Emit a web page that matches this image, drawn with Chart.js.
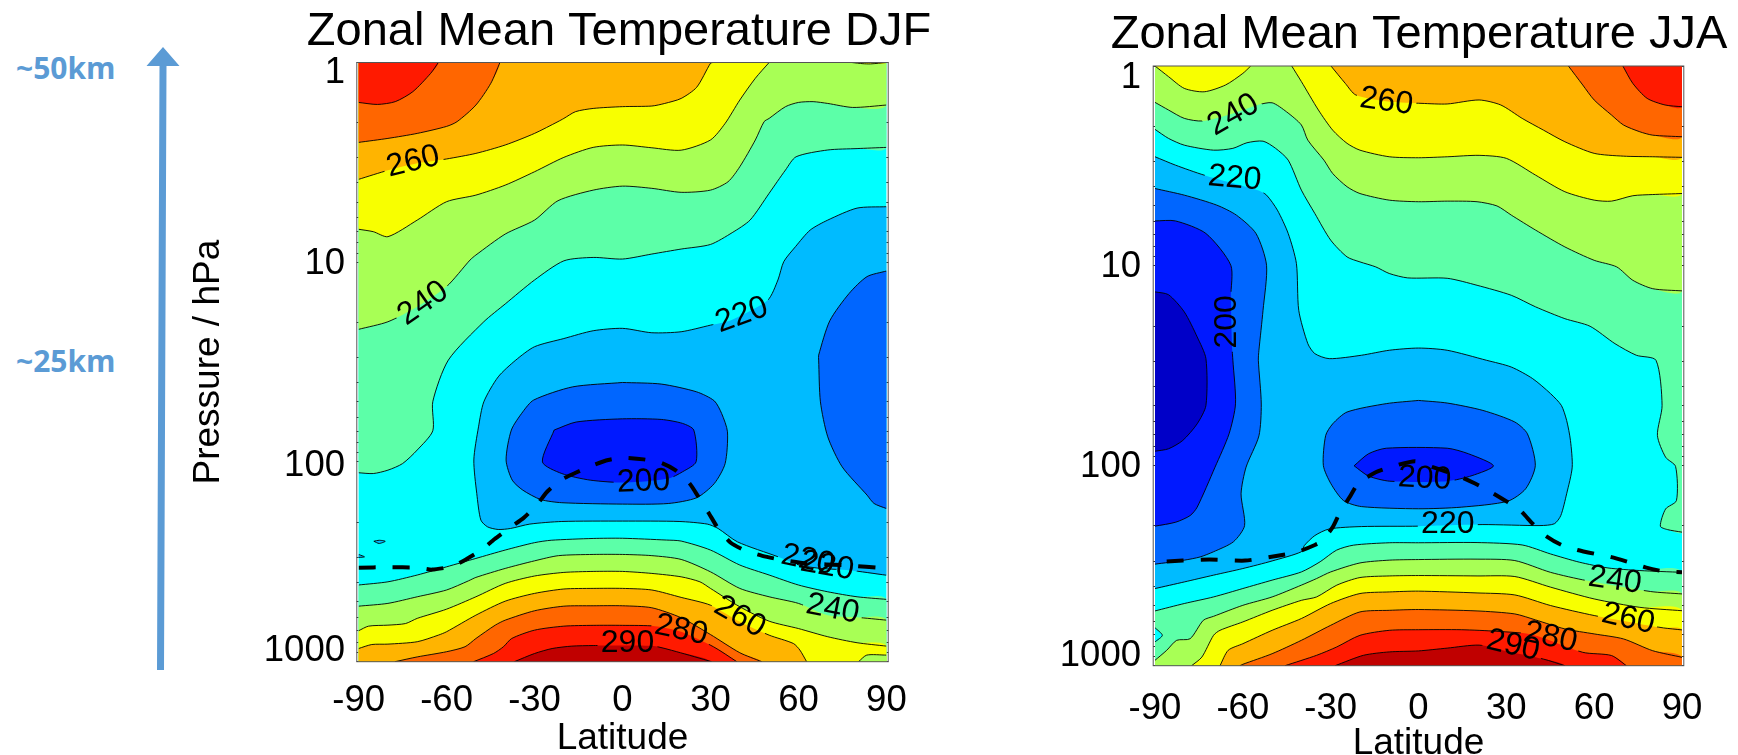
<!DOCTYPE html>
<html>
<head>
<meta charset="utf-8">
<title>Zonal Mean Temperature</title>
<script src="https://cdn.jsdelivr.net/npm/chart.js@4"></script>
<style>
  html, body { margin: 0; background: #fff; width: 1738px; height: 755px; overflow: hidden; }
  canvas { position: absolute; top: 0; }
  .km { position: absolute; left: 16px; color: #5b9bd5; font: bold 30px "Open Sans", sans-serif; line-height: 30px; }
  #arrow { position: absolute; left: 140px; top: 40px; }
</style>
</head>
<body>
<svg id="arrow" width="50" height="640">
  <polygon points="17,630 24,630 26.5,26 39.5,26 23,7 6.5,26 19.5,26" fill="#5b9bd5"/>
</svg>
<div class="km" style="top:53px">~50km</div>
<div class="km" style="top:346px">~25km</div>
<canvas id="djfChart" style="left:190px" width="858" height="800"></canvas>
<canvas id="jjaChart" style="left:1050px" width="738" height="800"></canvas>
<script>
// contours are [latitude, log10(pressure in hPa)]
const latTicks = [-90, -60, -30, 0, 30, 60, 90];
const pressureLabels = ['1', '10', '100', '1000'];

// ---- DJF ----
const djfUp230 = [[-90,2.054],[-85,2.058],[-80,2.041],[-75,2.008],[-70,1.94],[-64.7,1.844],[-64.7,1.698],[-59.4,1.49],[-47.3,1.298],[-40,1.209],[-30,1.089],[-20,.993],[-10,.976],[0,.984],[10,.959],[20,.934],[30,.911],[37.4,.852],[43.5,.789],[50,.655],[55.6,.538],[59.2,.472],[70,.438],[80,.431],[90,.425]];
const djfUp240 = [[-90,1.336],[-80,1.298],[-70,1.223],[-60,1.122],[-52,.989],[-50,.964],[-40,.859],[-30,.789],[-22,.692],[-10,.639],[0,.619],[10,.63],[20,.65],[30,.639],[36,.597],[40,.522],[45.3,.388],[48.3,.296],[50,.28],[55.6,.221],[60,.2],[65,.196],[70,.205],[78.5,.225],[90,.213]];
const djfUp250 = [[-90,.835],[-85,.847],[-80,.872],[-70,.789],[-60,.697],[-50,.664],[-40,.614],[-30,.547],[-20,.475],[-10,.425],[0,.413],[10,.427],[20,.439],[30,.388],[35,.305],[40,.188],[45.3,.079],[50,0]];
const djfUp250Pocket = [[78.2,0],[82,.006],[84.6,.007],[90,0]];
const djfUp260 = [[-90,.585],[-80,.54],[-70,.505],[-60,.483],[-50,.455],[-40,.413],[-30,.355],[-22,.296],[-20,.28],[-16,.246],[-10,.23],[0,.221],[10,.218],[14.4,.205],[20,.18],[25.3,.124],[30,.004],[30.8,0]];
const djfUp270 = [[-90,.4],[-80,.38],[-70,.355],[-60,.32],[-56.4,.296],[-50,.213],[-44.9,.104],[-41.8,0]];
const djfUp280 = [[-90,.2],[-83.6,.21],[-77.5,.196],[-71.5,.146],[-65.4,.054],[-62.8,0]];
const djfMid220 = [[90,.722],[80,.729],[70,.789],[64,.839],[59,.922],[55,.997],[53,1.089],[49.5,1.19],[37,1.29],[30,1.315],[20,1.348],[10,1.353],[0,1.331],[-10,1.343],[-20,1.382],[-30,1.423],[-36.4,1.49],[-42.4,1.574],[-47.3,1.699],[-49.1,1.824],[-50.7,1.99],[-49.7,2.158],[-48.3,2.291],[-46,2.325],[-42.4,2.338],[-38.2,2.333],[-31.6,2.311],[-20.7,2.298],[0,2.296],[19.3,2.298],[28.9,2.311],[32.6,2.333],[39.2,2.4],[53.1,2.475],[60.4,2.517],[67.7,2.533],[77.3,2.542],[90,2.567]];
const djfSpeckA = [[-84.8,2.397],[-83,2.408],[-80.9,2.397],[-83,2.392],[-84.8,2.397]];
const djfSpeckB = [[-90,2.463],[-88,2.475],[-90,2.478]];
const djfRight210 = [[90,1.044],[83.4,1.072],[77.3,1.156],[70.7,1.293],[66.9,1.465],[66.9,1.49],[67.5,1.699],[70,1.874],[74.9,2.024],[83.4,2.166],[85.8,2.208],[90,2.233]];
const djfCore210 = [[0,1.602],[-17,1.624],[-30.3,1.69],[-34,1.749],[-37.9,1.84],[-39.7,1.99],[-37.6,2.091],[-34,2.141],[-27.9,2.188],[-20.7,2.204],[0,2.211],[15.6,2.208],[25.3,2.179],[31.3,2.108],[35,2.008],[35.8,1.849],[33.8,1.757],[31.3,1.694],[25.3,1.649],[13.2,1.61],[0,1.602]];
const djfCore200 = [[-23.3,1.84],[-15.8,1.8],[0,1.784],[13.2,1.787],[20.5,1.807],[24.3,1.84],[25.1,1.999],[20.5,2.049],[15.6,2.083],[1.1,2.103],[-11,2.091],[-20.7,2.058],[-27.3,2],[-23.3,1.84]];
const djfLow230 = [[-90,2.616],[-80,2.6],[-70,2.566],[-60,2.525],[-50,2.483],[-40,2.441],[-30,2.404],[-24.3,2.392],[-10,2.383],[0,2.382],[15,2.391],[20,2.396],[30,2.441],[40,2.516],[50,2.566],[60,2.616],[70,2.65],[80,2.675],[90,2.688]];
const djfLow240 = [[-90,2.722],[-80,2.708],[-70,2.675],[-60,2.641],[-52.5,2.595],[-50,2.578],[-40,2.533],[-30,2.495],[-21.8,2.469],[-10,2.463],[0,2.463],[10,2.469],[20,2.488],[30,2.55],[40,2.633],[50,2.675],[60,2.708],[70,2.767],[80,2.778],[90,2.792]];
const djfLow250 = [[-90,2.845],[-86.6,2.822],[-80,2.817],[-74,2.809],[-70,2.783],[-60,2.737],[-50,2.675],[-40,2.608],[-30,2.571],[-20,2.553],[-10,2.548],[0,2.548],[10,2.558],[20,2.575],[26.4,2.6],[30,2.633],[40,2.725],[50,2.797],[60,2.834],[70,2.875],[80,2.905],[90,2.922]];
const djfLow250Pocket = [[80.5,3],[83.3,2.967],[90,2.967]];
const djfLow260 = [[-90,2.934],[-85.5,2.914],[-80,2.912],[-70,2.9],[-62.8,2.867],[-60,2.85],[-50,2.767],[-40,2.697],[-30,2.658],[-20,2.636],[-10,2.633],[0,2.633],[10,2.641],[20,2.678],[30,2.717],[40,2.8],[50,2.867],[58.3,2.909],[60.5,2.942],[62.8,3]];
const djfLow270 = [[-77.6,3],[-70,2.976],[-60,2.95],[-53.7,2.925],[-50,2.884],[-43.4,2.817],[-40,2.792],[-30,2.745],[-20,2.722],[-10,2.72],[0,2.72],[10,2.73],[20,2.78],[30,2.864],[40,2.955],[47.5,3]];
const djfLow280 = [[-50.8,3],[-44,2.959],[-40.6,2.925],[-37.8,2.884],[-30,2.842],[-20,2.822],[-10,2.818],[0,2.818],[11,2.822],[20,2.85],[31,2.925],[39,3]];
const djfLow290 = [[-36.9,3],[-30,2.959],[-24,2.934],[-17.3,2.922],[-10,2.919],[-6.5,2.919],[10.5,2.922],[18.5,2.95],[30.4,3]];
const djfTropopause = [[-90,2.529],[-80,2.527],[-70,2.529],[-65,2.539],[-58,2.522],[-53.3,2.487],[-47.9,2.439],[-43.7,2.387],[-38.8,2.333],[-33.7,2.28],[-29.1,2.213],[-25.7,2.149],[-20.7,2.088],[-15.8,2.053],[-10,2.016],[-4.9,1.99],[0,1.979],[7.2,1.987],[13.2,2.004],[18,2.041],[22.9,2.108],[25.9,2.175],[29.5,2.258],[32.6,2.333],[36.8,2.403],[41.6,2.442],[47.7,2.47],[53.1,2.487],[62.8,2.508],[76.1,2.517],[90,2.533]];
// text, latitude, log10 p, rotation
const djfLabels = [['260',-71.4,.497,-14],['240',-68,1.206,-35],['220',40.7,1.265,-20],['200',7.2,2.1,-2],['220',63.2,2.492,12],['220',69.8,2.522,10],['240',71.7,2.737,11],['260',40,2.776,30],['280',20,2.842,12],['290',1.7,2.906,0]];

// ---- JJA ----
const jjaUp230 = [[-90,.317],[-85.4,.362],[-80,.396],[-70,.421],[-63.4,.412],[-58.6,.384],[-53.1,.376],[-48.8,.412],[-44.5,.471],[-40,.621],[-35.4,.738],[-30,.871],[-24.4,.955],[-20,.98],[-14.6,1.005],[-10,1.038],[-3.7,1.06],[9.8,1.062],[20,1.097],[31.7,1.147],[40,1.205],[50,1.264],[58.6,1.302],[67.1,1.389],[74.4,1.447],[81.1,1.472],[83.2,1.698],[81.6,1.848],[84.4,1.957],[87.8,2.003],[88.1,2.174],[84.4,2.216],[82.6,2.302],[85,2.319],[90,2.332]];
const jjaUp240 = [[-90,.182],[-85.4,.22],[-80,.262],[-73.8,.275],[-63.4,.237],[-54.9,.195],[-50,.184],[-45.1,.229],[-40,.295],[-37.8,.371],[-32.3,.471],[-29.3,.538],[-24.4,.604],[-20,.638],[-10,.671],[0,.679],[10,.676],[20,.679],[26.8,.7],[31.7,.746],[40,.821],[50,.905],[60,.972],[67.7,1.005],[73.2,1.072],[80,1.114],[90,1.125]];
const jjaUp250Cap = [[-90,0],[-85.4,.053],[-80,.112],[-73.2,.129],[-65.9,.095],[-60,.037],[-57.3,0]];
const jjaUp250 = [[-43.3,0],[-40,.078],[-34.2,.22],[-29.3,.321],[-24.4,.387],[-20,.421],[-10,.454],[0,.459],[10,.454],[20.7,.447],[30,.462],[40,.546],[50,.629],[60,.671],[65.9,.676],[73.2,.649],[80,.643],[90,.638]];
const jjaUp260 = [[-29.9,0],[-25,.087],[-21.4,.145],[-9.8,.179],[1.2,.187],[9.8,.19],[20.7,.17],[28.1,.195],[35.4,.262],[42.7,.321],[50,.379],[60,.437],[70,.451],[80,.454],[90,.457]];
const jjaUp270 = [[51.2,0],[56.1,.095],[60,.17],[65.9,.245],[70,.295],[75.6,.329],[80,.346],[90,.354]];
const jjaUp280 = [[69.8,0],[73.2,.087],[78.1,.162],[84.2,.195],[90,.204]];
const jjaMid220 = [[-90,.454],[-83,.496],[-73.2,.546],[-54.9,.621],[-51.9,.646],[-48.2,.721],[-44.5,.838],[-41.7,.988],[-40.9,1.222],[-37.8,1.389],[-35.4,1.439],[-30.5,1.464],[-19.5,1.447],[-10,1.422],[0,1.411],[9.8,1.422],[23.2,1.472],[31.7,1.506],[39,1.564],[45.1,1.639],[48.8,1.698],[50.6,1.773],[51.9,1.873],[52.5,2.007],[50.6,2.14],[48.6,2.249],[46.4,2.29],[41.5,2.299],[22,2.294],[0,2.302],[-19.5,2.304],[-30.5,2.316],[-35.4,2.349],[-39,2.399],[-40,2.43],[-50,2.476],[-60,2.514],[-70,2.547],[-80,2.581],[-90,2.614]];
const jjaLeft210 = [[-90,.613],[-80,.646],[-68.9,.696],[-62.2,.746],[-55.5,.838],[-51.9,.997],[-53.1,1.222],[-54.5,1.422],[-54.7,1.472],[-53.7,1.691],[-54.5,1.85],[-58.9,2.007],[-60.6,2.14],[-59.4,2.299],[-63.2,2.38],[-70,2.43],[-74.6,2.456],[-80,2.472],[-90,2.492]];
const jjaLeft200 = [[-90,.775],[-83,.775],[-72.6,.838],[-64.1,.997],[-64.1,1.155],[-63.7,1.406],[-63.4,1.472],[-62.5,1.69],[-64.7,1.84],[-69.5,2.007],[-75.6,2.207],[-78,2.249],[-82.9,2.282],[-90,2.302]];
const jjaLeft190 = [[-90,1.13],[-85.4,1.144],[-80,1.23],[-75.6,1.355],[-72.6,1.464],[-72.6,1.698],[-75.6,1.79],[-80.5,1.873],[-85.4,1.915],[-90,1.927]];
const jjaCore210 = [[0,1.673],[-11,1.689],[-24.4,1.731],[-29.3,1.79],[-31.7,1.848],[-32.5,1.998],[-29.9,2.09],[-25.6,2.174],[-19.5,2.204],[0,2.215],[14.6,2.207],[30.5,2.177],[36.6,2.115],[39.9,1.998],[37.2,1.84],[32.9,1.781],[22,1.723],[9.8,1.686],[0,1.673]];
const jjaCore200 = [[-22,2],[-17.1,1.94],[-11,1.912],[9.8,1.912],[17.1,1.94],[25.6,2],[18.3,2.049],[9.8,2.077],[-9.8,2.077],[-17.1,2.051],[-22,2]];
const jjaLow230 = [[-90,2.726],[-80,2.689],[-70,2.656],[-60,2.614],[-50,2.572],[-40,2.531],[-33.6,2.48],[-28,2.422],[-22.2,2.397],[-10,2.385],[0,2.385],[20,2.384],[35.4,2.396],[45.1,2.441],[54.9,2.482],[64.7,2.511],[75.6,2.524],[90,2.533]];
const jjaLow240 = [[-90,2.973],[-86,2.923],[-82.6,2.873],[-78,2.865],[-73.5,2.773],[-70,2.753],[-60,2.698],[-50,2.656],[-40,2.597],[-34.8,2.564],[-30,2.531],[-20,2.486],[-10,2.472],[0,2.469],[20,2.467],[32.9,2.474],[45.1,2.533],[57.3,2.574],[79.3,2.629],[90,2.641]];
const jjaBlob = [[-90,2.81],[-87.5,2.848],[-90,2.881]];
const jjaLow250 = [[-77.5,3],[-74,2.957],[-70,2.848],[-67.8,2.823],[-60,2.781],[-50,2.723],[-40,2.673],[-34.8,2.656],[-27.9,2.597],[-20,2.559],[-10,2.551],[0,2.549],[20,2.551],[32.9,2.554],[45.1,2.607],[60,2.666],[75.6,2.708],[90,2.725]];
const jjaLow260 = [[-67.8,3],[-65,2.923],[-60,2.89],[-50,2.823],[-40,2.764],[-30,2.689],[-20,2.639],[-10,2.631],[0,2.627],[20,2.636],[32.9,2.646],[45.1,2.699],[60,2.749],[75.6,2.791],[83.7,2.811],[90,2.821]];
const jjaLow270 = [[-61,3],[-60,2.993],[-50,2.94],[-40,2.873],[-30,2.798],[-20,2.731],[-10,2.723],[0,2.719],[20,2.726],[32.9,2.741],[40,2.771],[50,2.816],[60,2.841],[70,2.866],[80,2.925],[90,2.958]];
const jjaLow280 = [[-45.6,3],[-34.8,2.948],[-27.9,2.906],[-20,2.848],[-10,2.823],[0,2.82],[14.6,2.82],[26.8,2.828],[39,2.845],[56.1,2.933],[65.9,2.949],[71,3]];
const jjaLow290 = [[-28.5,3],[-18.8,2.948],[-10,2.931],[0,2.926],[9.8,2.912],[20.7,2.897],[29.3,2.925],[42.7,2.967],[50,3]];
const jjaTropopause = [[-86,2.479],[-80.5,2.474],[-71.4,2.469],[-59.2,2.474],[-47.6,2.449],[-41.5,2.432],[-35.4,2.396],[-33.2,2.379],[-29.3,2.307],[-26.8,2.232],[-23.2,2.149],[-20.5,2.086],[-14.6,2.032],[-9.8,2.007],[-1.2,1.977],[4.9,2.007],[13.4,2.049],[19.5,2.09],[24.4,2.128],[30.5,2.182],[34.8,2.224],[39,2.29],[43.3,2.349],[48.8,2.396],[54.3,2.421],[60.4,2.441],[65.9,2.457],[72,2.483],[77.5,2.508],[83.6,2.528],[90,2.533]];
const jjaLabels = [['260',-11,.179,8],['240',-63.2,.245,-30],['220',-62.8,.563,5],['200',-65.3,1.28,-90],['200',2.1,2.065,3],['220',10,2.29,0],['240',67.1,2.574,8],['260',71.6,2.766,13],['280',45.1,2.858,12],['290',32.3,2.9,13]];

const colors = {
  c190: '#0000c8', c200: '#0019ff', c210: '#0066ff', c220: '#00bbff', c230: '#00ffff',
  c240: '#5cffa8', c250: '#a8ff55', c260: '#f8ff00', c270: '#ffb400', c280: '#ff6600',
  c290: '#ff1a00', c300: '#c00000'
};

// how a contour is closed outside the frame, so the clip gives the hard edges
const TOP = [[120, -1], [-120, -1]];
const BOTTOM = [[120, 4], [-120, 4]];
const lastOf = a => a[a.length - 1];
const topLeft = a => [[lastOf(a)[0], -1], [-120, -1]];
const topRight = a => [[120, -1], [a[0][0], -1]];
const leftSide = a => [[-120, lastOf(a)[1]], [-120, a[0][1]]];
const rightSide = a => [[120, lastOf(a)[1]], [120, a[0][1]]];

const djfLayers = [
  [djfUp230, TOP, colors.c240, 230], [djfUp240, TOP, colors.c250, 240], [djfUp250, TOP, colors.c260, 250],
  [djfUp250Pocket, [[90, -.1], [78.2, -.1]], colors.c260, 250], [djfUp260, TOP, colors.c270, 260],
  [djfUp270, topLeft(djfUp270), colors.c280, 270], [djfUp280, topLeft(djfUp280), colors.c290, 280],
  [djfMid220, rightSide(djfMid220), colors.c220, 220], [djfSpeckA, [], colors.c220, 221], [djfSpeckB, leftSide(djfSpeckB), colors.c220, 221],
  [djfRight210, rightSide(djfRight210), colors.c210, 210], [djfCore210, [], colors.c210, 210], [djfCore200, [], colors.c200, 200],
  [djfLow230, BOTTOM, colors.c240, 230], [djfLow240, BOTTOM, colors.c250, 240], [djfLow250, BOTTOM, colors.c260, 250],
  [djfLow250Pocket, [[120, 2.967], [120, 4], [80.5, 4]], colors.c250, 250], [djfLow260, BOTTOM, colors.c270, 260],
  [djfLow270, BOTTOM, colors.c280, 270], [djfLow280, BOTTOM, colors.c290, 280], [djfLow290, BOTTOM, colors.c300, 290]
];
const jjaLayers = [
  [jjaUp230, TOP, colors.c240, 230], [jjaUp240, TOP, colors.c250, 240],
  [jjaUp250Cap, topLeft(jjaUp250Cap), colors.c260, 250], [jjaUp250, topRight(jjaUp250), colors.c260, 250],
  [jjaUp260, topRight(jjaUp260), colors.c270, 260], [jjaUp270, topRight(jjaUp270), colors.c280, 270], [jjaUp280, topRight(jjaUp280), colors.c290, 280],
  [jjaMid220, leftSide(jjaMid220), colors.c220, 220], [jjaLeft210, leftSide(jjaLeft210), colors.c210, 210],
  [jjaLeft200, leftSide(jjaLeft200), colors.c200, 200], [jjaLeft190, leftSide(jjaLeft190), colors.c190, 190],
  [jjaCore210, [], colors.c210, 210], [jjaCore200, [], colors.c200, 200],
  [jjaLow230, BOTTOM, colors.c240, 230], [jjaLow240, BOTTOM, colors.c250, 240], [jjaBlob, leftSide(jjaBlob), colors.c230, 231],
  [jjaLow250, BOTTOM, colors.c260, 250], [jjaLow260, BOTTOM, colors.c270, 260], [jjaLow270, BOTTOM, colors.c280, 270],
  [jjaLow280, BOTTOM, colors.c290, 280], [jjaLow290, BOTTOM, colors.c300, 290]
];

Chart.defaults.font.family = '"Liberation Sans", Arial, sans-serif';
Chart.defaults.color = '#000';

const toPoints = a => a.map(([lat, lg]) => ({x: lat, y: Math.pow(10, lg)}));
const minorTicks = [1,2,3,4,5,6,7,8,9,10,20,30,40,50,60,70,80,90,100,200,300,400,500,600,700,800,900,1000];

function drawPanel(id, p) {
  const datasets = [];
  p.layers.forEach(([line, close, color, level]) => {
    datasets.push({data: toPoints(line.concat(close)), fill: 'shape', backgroundColor: color, borderWidth: 0, tension: 0.25});
    datasets.push({data: toPoints(line), fill: false, borderColor: '#000', borderWidth: 0.9, tension: 0.25, level: level});
  });
  datasets.push({data: toPoints(p.tropopause), fill: false, borderColor: '#000', borderWidth: 4, borderDash: [17, 17], tension: 0.2});
  datasets.reverse(); // first dataset is painted last

  const labelHoles = {
    id: 'labelHoles',
    beforeDatasetDraw(chart, args) {
      const level = chart.data.datasets[args.index].level;
      if (!level) return;
      const ctx = chart.ctx;
      ctx.save();
      ctx.beginPath();
      ctx.rect(0, 0, chart.width, chart.height);
      p.labels.filter(l => Number(l[0]) === level).forEach(l => {
        const cx = chart.scales.x.getPixelForValue(l[1]);
        const cy = chart.scales.y.getPixelForValue(Math.pow(10, l[2]));
        const a = l[3] * Math.PI / 180, ux = Math.cos(a), uy = Math.sin(a);
        const hw = 30, hh = 13;
        ctx.moveTo(cx - hw * ux + hh * uy, cy - hw * uy - hh * ux);
        ctx.lineTo(cx + hw * ux + hh * uy, cy + hw * uy - hh * ux);
        ctx.lineTo(cx + hw * ux - hh * uy, cy + hw * uy + hh * ux);
        ctx.lineTo(cx - hw * ux - hh * uy, cy - hw * uy + hh * ux);
        ctx.closePath();
      });
      ctx.clip('evenodd');
    },
    afterDatasetDraw(chart, args) {
      if (chart.data.datasets[args.index].level) chart.ctx.restore();
    }
  };

  const decorate = {
    id: 'decorate',
    beforeDatasetsDraw(chart) {
      const a = chart.chartArea, ctx = chart.ctx;
      ctx.fillStyle = colors.c230;
      ctx.fillRect(a.left, a.top, a.right - a.left, a.bottom - a.top);
    },
    afterDatasetsDraw(chart) {
      const a = chart.chartArea, ctx = chart.ctx;
      ctx.save();
      ctx.fillStyle = '#000';
      ctx.textAlign = 'center';
      ctx.textBaseline = 'middle';
      ctx.font = '32px "Liberation Sans"';
      p.labels.forEach(l => {
        ctx.save();
        ctx.translate(chart.scales.x.getPixelForValue(l[1]), chart.scales.y.getPixelForValue(Math.pow(10, l[2])));
        ctx.rotate(l[3] * Math.PI / 180);
        ctx.fillText(l[0], 0, 0);
        ctx.restore();
      });
      // frame sits a little outside the filled area
      ctx.strokeStyle = '#555';
      ctx.lineWidth = 1;
      ctx.strokeRect(a.left - 1.8, a.top, a.right - a.left + 3.6, a.bottom - a.top);
      // pressure labels are set off from their ticks in the original
      ctx.textAlign = 'right';
      ctx.font = '36.5px "Liberation Sans"';
      pressureLabels.forEach((t, i) => {
        ctx.fillText(t, p.yLabelRight - p.canvasLeft, chart.scales.y.getPixelForValue(Number(t)) + p.yLabelDy[i]);
      });
      ctx.restore();
    }
  };

  const yAxis = (position) => ({
    type: 'logarithmic', position: position, reverse: true, min: 1, max: 1000,
    afterBuildTicks: s => { s.ticks = minorTicks.map(v => ({value: v})); },
    afterFit: s => { s.width = position === 'left' ? p.areaLeft - p.canvasLeft : p.canvasLeft + p.canvasWidth - p.areaRight; },
    ticks: {display: false, autoSkip: false},
    border: {display: false},
    grid: {drawOnChartArea: false, tickLength: 2, color: '#333', lineWidth: 1}
  });
  const y = yAxis('left');
  if (p.yTitle) y.title = {display: true, text: p.yTitle, font: {size: 37, lineHeight: 1}, padding: {top: 0, bottom: 29.8}};

  new Chart(document.getElementById(id), {
    type: 'scatter',
    data: {datasets: datasets},
    plugins: [labelHoles, decorate],
    options: {
      responsive: false,
      animation: false,
      events: [],
      layout: {padding: 0},
      elements: {point: {radius: 0}, line: {capBezierPoints: false}},
      datasets: {scatter: {showLine: true}},
      plugins: {
        legend: {display: false},
        tooltip: {enabled: false},
        title: {display: true, text: p.title, font: {size: 47, weight: 'normal', lineHeight: 1}, padding: p.titlePad}
      },
      scales: {
        x: {
          type: 'linear', min: -90, max: 90,
          afterBuildTicks: s => { s.ticks = latTicks.map(v => ({value: v})); },
          afterFit: s => { s.height = 800 - p.areaBottom; },
          ticks: {font: {size: 36.5, lineHeight: 1}, padding: p.xTickPad, maxRotation: 0, autoSkip: false, callback: v => String(v)},
          border: {display: false},
          grid: {display: false},
          title: {display: true, text: 'Latitude', font: {size: 37, lineHeight: 1}, padding: {top: 0, bottom: p.xTitleBottom}}
        },
        y: y,
        y2: yAxis('right')
      }
    }
  });
}

drawPanel('djfChart', {
  title: 'Zonal Mean Temperature DJF', yTitle: 'Pressure / hPa', layers: djfLayers, labels: djfLabels, tropopause: djfTropopause,
  canvasLeft: 190, canvasWidth: 858, areaLeft: 358.6, areaRight: 886.4, areaBottom: 661.7,
  titlePad: {top: 9, bottom: 6.5}, xTickPad: 13, xTitleBottom: 42.7, yLabelRight: 345, yLabelDy: [10.5, 1.5, 3.5, -10.5]
});
drawPanel('jjaChart', {
  title: 'Zonal Mean Temperature JJA', layers: jjaLayers, labels: jjaLabels, tropopause: jjaTropopause,
  canvasLeft: 1050, canvasWidth: 738, areaLeft: 1155, areaRight: 1682, areaBottom: 665.7,
  titlePad: {top: 11.5, bottom: 7.5}, xTickPad: 17, xTitleBottom: 37.7, yLabelRight: 1141, yLabelDy: [12, 1, 1, -10]
});
</script>
</body>
</html>
